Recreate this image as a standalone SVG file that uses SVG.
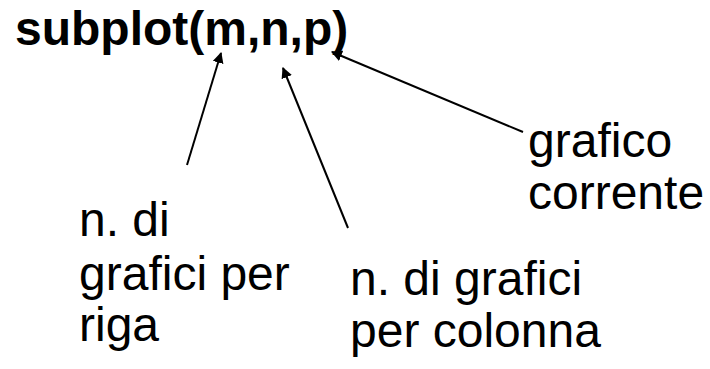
<svg xmlns="http://www.w3.org/2000/svg" width="710" height="369" viewBox="0 0 710 369">
  <style>
    .title { font-family: "Liberation Sans", Arial, sans-serif; font-weight: bold; font-size: 48px; fill: #000; }
    .label { font-family: "Liberation Sans", Arial, sans-serif; font-size: 48px; fill: #000; }
    .conn { stroke: #000; stroke-width: 2; fill: none; marker-end: url(#head); }
  </style>
  <defs>
    <marker id="head" viewBox="0 0 10 10" refX="9" refY="5" markerWidth="11" markerHeight="11" markerUnits="userSpaceOnUse" orient="auto">
      <path d="M0,0 L10,5 L0,10 z" fill="#000"/>
    </marker>
  </defs>
  <rect width="710" height="369" fill="#fff"/>

  <g id="func">
    <text class="title" x="15" y="45">subplot(m,n,p)</text>
  </g>

  <g id="rows">
    <text class="label" x="79" y="236">n. di</text>
    <text class="label" x="79" y="290">grafici per</text>
    <text class="label" x="79" y="341">riga</text>
  </g>

  <g id="cols">
    <text class="label" x="350" y="295">n. di grafici</text>
    <text class="label" x="350" y="347">per colonna</text>
  </g>

  <g id="current">
    <text class="label" x="528" y="157">grafico</text>
    <text class="label" x="528" y="209">corrente</text>
  </g>

  <g id="connectors">
    <line class="conn" x1="187" y1="165" x2="221" y2="53"/>
    <line class="conn" x1="348" y1="228" x2="283" y2="68"/>
    <line class="conn" x1="523" y1="132" x2="332" y2="52"/>
  </g>
</svg>
